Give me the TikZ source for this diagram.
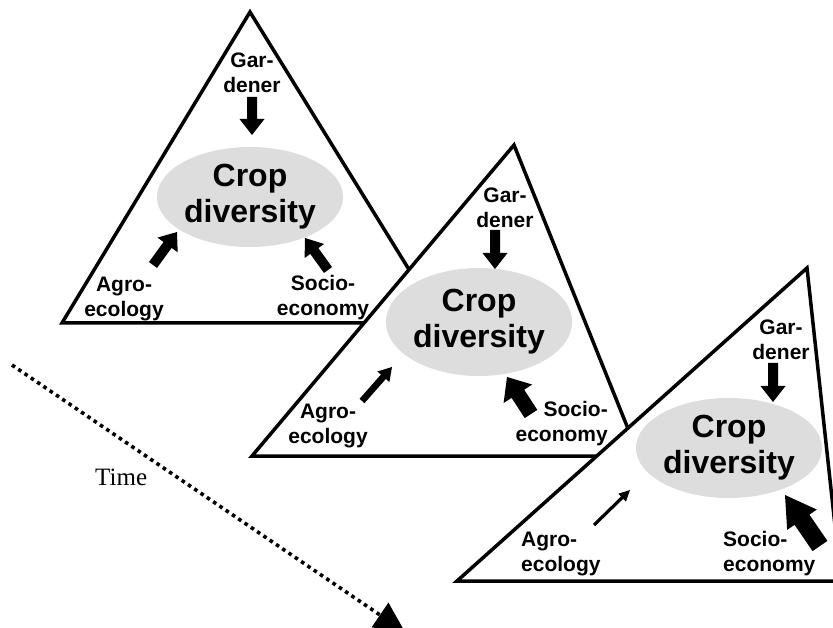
\documentclass[tikz,border=0pt]{standalone}
\usepackage{fontspec}
\setmainfont{Liberation Serif}
\setsansfont{Liberation Sans}
\usetikzlibrary{calc,shapes.geometric}
\newcommand\blockarrow[5]{%
  \fill let \p1=($(#2)-(#1)$), \n1={atan2(\y1,\x1)}, \n2={veclen(\x1,\y1)} in
   [shift={(#1)}, rotate=\n1] (0,-#3) -- ({\n2-#5},-#3) -- ({\n2-#5},-#4) -- (\n2,0)
   -- ({\n2-#5},#4) -- ({\n2-#5},#3) -- (0,#3) -- cycle;}
\newcommand\headonly[3]{%
  \fill let \p1=($(#2)-(#1)$), \n1={atan2(\y1,\x1)}, \n2={veclen(\x1,\y1)} in
   [shift={(#1)}, rotate=\n1] (0,-#3) -- (\n2,0) -- (0,#3) -- cycle;}
\tikzset{
  tri/.style={draw=black, fill=white, line width=3.5pt, line join=miter},
  cropbox/.style={ellipse, fill=cropgray, inner sep=0pt, align=center,
    font=\sffamily\bfseries\fontsize{32}{36}\selectfont},
  lbl/.style={inner sep=0pt, align=center,
    font=\sffamily\bfseries\fontsize{21}{25}\selectfont},
  timeline/.style={line width=3.6pt, dash pattern=on 3.6pt off 4pt},
}
\definecolor{cropgray}{HTML}{DDDDDD}
\begin{document}
\begin{tikzpicture}[x=1pt,y=1pt]
\path[use as bounding box, clip] (0,0) rectangle (833,-628);
\fill[white] (0,0) rectangle (833,-628);

% ---------- triangle 1
\draw[tri] (250,-12) -- (62,-323) -- (442,-323) -- cycle;
\node[cropbox, minimum width=176pt, minimum height=100pt] (c1) at (250,-197) {Crop\\diversity};
\node[lbl] (g1) at (252,-73) {Gar-\\dener};
\node[lbl] (a1) at (124,-299) {Agro-\\ecology};
\node[lbl] (s1) at (323,-298) {Socio-\\economy};
\coordinate (g1s) at (252,-97);  \coordinate (g1e) at (252,-135);
\coordinate (a1s) at (153,-265); \coordinate (a1e) at (177,-232);
\coordinate (s1s) at (328,-270); \coordinate (s1e) at (305,-238);
\blockarrow{g1s}{g1e}{5}{12.5}{16}
\blockarrow{a1s}{a1e}{5}{12.5}{16}
\blockarrow{s1s}{s1e}{5}{12}{16}

% ---------- triangle 2
\draw[tri] (514,-145) -- (252,-456) -- (639,-456) -- cycle;
\node[cropbox, minimum width=176pt, minimum height=108pt] (c2) at (479,-322) {Crop\\diversity};
\node[lbl] (g2) at (505,-208) {Gar-\\dener};
\node[lbl] (a2) at (328,-426) {Agro-\\ecology};
\node[lbl, align=right, anchor=east] (s2) at (608,-424) {Socio-\\economy};
\coordinate (g2s) at (495,-230); \coordinate (g2e) at (495,-269);
\coordinate (a2s) at (362,-401); \coordinate (a2e) at (392,-367);
\coordinate (s2s) at (531,-414); \coordinate (s2e) at (507,-377);
\blockarrow{g2s}{g2e}{5}{12.5}{16}
\blockarrow{a2s}{a2e}{3.3}{8}{13}
\blockarrow{s2s}{s2e}{7.5}{17}{20}

% ---------- triangle 3
\draw[tri] (807,-268) -- (457,-581) -- (841,-581) -- cycle;
\node[cropbox, minimum width=182pt, minimum height=100pt] (c3) at (729,-448) {Crop\\diversity};
\node[lbl] (g3) at (781,-340) {Gar-\\dener};
\node[lbl, align=left, anchor=west] (a3) at (521,-554) {Agro-\\ecology};
\node[lbl, align=left, anchor=west] (s3) at (723,-554) {Socio-\\economy};
\coordinate (g3s) at (773,-363); \coordinate (g3e) at (773,-402);
\coordinate (a3s) at (594,-525); \coordinate (a3e) at (630,-490);
\coordinate (s3s) at (820,-546); \coordinate (s3e) at (785,-495);
\blockarrow{g3s}{g3e}{5}{12.5}{16}
\blockarrow{a3s}{a3e}{1.6}{5.5}{11}
\blockarrow{s3s}{s3e}{9}{18}{30}

% ---------- time axis
\node[inner sep=0pt, anchor=base west, font=\fontsize{25}{30}\selectfont] (time) at (95,-485) {Time};
\coordinate (t0) at (12,-365);
\coordinate (tb) at (380,-615);
\coordinate (t1) at (405,-632);
\draw[timeline] (t0) -- (tb);
\headonly{tb}{t1}{15}
\end{tikzpicture}
\end{document}
